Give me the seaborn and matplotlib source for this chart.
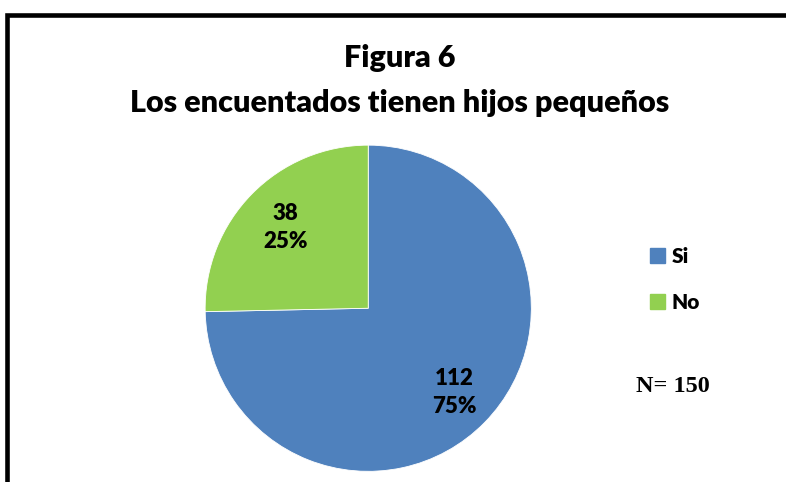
import matplotlib
matplotlib.use("Agg")
import matplotlib.pyplot as plt
import matplotlib.patches as mpatches
import numpy as np
import seaborn as sns

# data
categories = ["Si", "No"]
counts = [112, 38]
percents = [75, 25]
colors = ["#4F81BD", "#92D050"]
total_n = 150

title_lines = ["Figura 6", "Los encuentados tienen hijos pequeños"]

sns.set_theme(style="white")
plt.rcParams['font.family'] = ['Lato', 'DejaVu Sans']
plt.rcParams['text.color'] = 'black'

fig = plt.figure(figsize=(7.86, 4.82), dpi=100)

# pie axes: centre ~ (368, 308) px, radius ~ 163 px
ax = fig.add_axes([0.261, 0.022, 0.415, 0.677])
wedges, _ = ax.pie(counts, colors=colors, startangle=90, counterclock=False,
                   radius=1.0, wedgeprops=dict(linewidth=0.6, edgecolor="white"))
ax.set_xlim(-1, 1)
ax.set_ylim(-1, 1)
ax.set_aspect("equal")
ax.axis("off")

# value labels inside the slices
label_dist = [0.74, 0.71]
for w, c, p, d in zip(wedges, counts, percents, label_dist):
    ang = np.deg2rad((w.theta1 + w.theta2) / 2)
    ax.text(d * np.cos(ang), d * np.sin(ang), f"{c}\n{p}%",
            ha="center", va="center", fontsize=16, fontweight="heavy",
            linespacing=1.4, color="black")

# titles
fig.text(0.509, 0.88, title_lines[0], ha="center", va="center",
         fontsize=22, fontweight="heavy")
fig.text(0.509, 0.787, title_lines[1], ha="center", va="center",
         fontsize=22, fontweight="heavy")

# legend
handles = [mpatches.Patch(color=c, label=l) for c, l in zip(colors, categories)]
leg = fig.legend(handles=handles, loc="upper left", bbox_to_anchor=(0.816, 0.505),
                 frameon=False, prop={'weight': 'heavy', 'size': 15},
                 handlelength=0.75, handleheight=0.75, handletextpad=0.3,
                 labelspacing=1.3, borderaxespad=0)
for t in leg.get_texts():
    t.set_color("black")

fig.text(0.809, 0.199, f"N= {total_n}", ha="left", va="center",
         fontsize=17.5, fontweight="bold", family="Liberation Serif")

# black frame (only left and top edges visible)
frame = mpatches.Rectangle((7 / 786, -0.2), 1.5, (482 - 14.5) / 482 + 0.2,
                           transform=fig.transFigure, fill=False,
                           edgecolor="black", linewidth=3.3)
fig.patches.append(frame)

fig.savefig("out.png", dpi=100)
